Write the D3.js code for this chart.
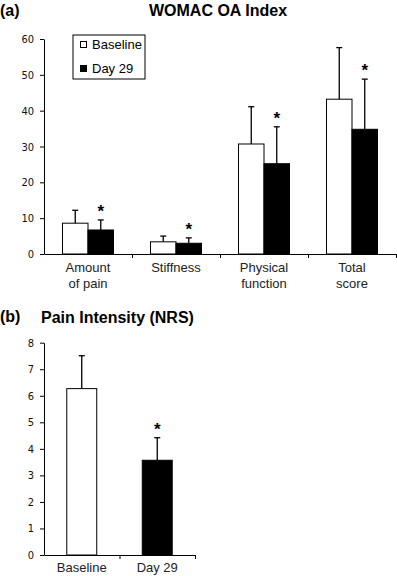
<!DOCTYPE html>
<html>
<head>
<meta charset="utf-8">
<script src="https://cdn.jsdelivr.net/npm/d3@7/dist/d3.min.js"></script>
<style>
  html, body { margin: 0; padding: 0; background: #fff; }
  svg { display: block; }
  .tick text { font-family: "Liberation Sans Narrow", "DejaVu Sans Condensed", "Liberation Sans", sans-serif; font-size: 11px; fill: #111; }
  .cat { font-family: "Liberation Sans", Arial, sans-serif; font-size: 13px; fill: #222; }
  .ttl { font-family: "Liberation Sans", Arial, sans-serif; font-weight: bold; font-size: 16px; }
</style>
</head>
<body>
<svg id="chart" width="397" height="576"></svg>
<script>
// (a) WOMAC OA Index
const womacCategories = [['Amount', 'of pain'], ['Stiffness'], ['Physical', 'function'], ['Total', 'score']];
const seriesNames = ['Baseline', 'Day 29'];
const womacBaseline = [8.6, 3.4, 30.7, 43.2];
const womacBaselineSD = [3.6, 1.6, 10.4, 14.4];
const womacDay29 = [6.7, 3.0, 25.2, 34.8];
const womacDay29SD = [2.8, 1.5, 10.3, 14.0];
const womacTicks = [0, 10, 20, 30, 40, 50, 60];

// (b) Pain Intensity (NRS)
const nrsCategories = ['Baseline', 'Day 29'];
const nrsValues = [6.27, 3.57];
const nrsSD = [1.24, 0.85];
const nrsSignificant = [false, true];
const nrsTicks = [0, 1, 2, 3, 4, 5, 6, 7, 8];

const svg = d3.select('#chart');

function errorBar(g, x, y0, y1) {
    g.append('line').attr('x1', x).attr('x2', x).attr('y1', y0).attr('y2', y1)
        .attr('stroke', '#000').attr('stroke-width', 1.3);
    g.append('line').attr('x1', x - 3).attr('x2', x + 3).attr('y1', y1).attr('y2', y1)
        .attr('stroke', '#000').attr('stroke-width', 1.3);
}

function star(g, x, yCap) {
    g.append('text').attr('x', x).attr('y', yCap - 3)
        .attr('text-anchor', 'middle')
        .style('font-family', '"Liberation Sans", Arial, sans-serif')
        .style('font-weight', 'bold').style('font-size', '17px')
        .text('*');
}

// ---------- panel (a) ----------
{
    const g = svg.append('g');
    const left = 44, right = 396;
    const y = d3.scaleLinear().domain([0, 60]).range([254, 39]);
    const x0 = d3.scaleBand().domain(d3.range(womacCategories.length)).range([left, right]).padding(0);
    const x1 = d3.scaleBand().domain(seriesNames).range([0, x0.bandwidth()]).paddingInner(0).paddingOuter(0.725);
    const xEdge = d3.scaleLinear().domain([0, womacCategories.length]).range([left, right]);

    g.append('text').attr('class', 'ttl').attr('x', 0).attr('y', 16).text('(a)');
    g.append('text').attr('class', 'ttl').attr('x', 218).attr('y', 16).attr('text-anchor', 'middle').text('WOMAC OA Index');

    g.append('g').attr('transform', `translate(${left},0)`)
        .call(d3.axisLeft(y).tickValues(womacTicks).tickSize(4).tickPadding(6).tickSizeOuter(0))
        .call(a => a.selectAll('line,path').attr('stroke', '#000'));

    const rows = womacCategories.map((c, i) => [
        { s: 'Baseline', i, v: womacBaseline[i], sd: womacBaselineSD[i], sig: false },
        { s: 'Day 29', i, v: womacDay29[i], sd: womacDay29SD[i], sig: true }
    ]).flat();

    g.selectAll('rect.bar').data(rows).join('rect')
        .attr('class', 'bar')
        .attr('x', d => x0(d.i) + x1(d.s))
        .attr('y', d => y(d.v))
        .attr('width', x1.bandwidth())
        .attr('height', d => y(0) - y(d.v))
        .attr('fill', d => d.s === 'Baseline' ? '#fff' : '#000')
        .attr('stroke', '#000').attr('stroke-width', 1);

    rows.forEach(d => {
        const cx = x0(d.i) + x1(d.s) + x1.bandwidth() / 2;
        errorBar(g, cx, y(d.v), y(d.v + d.sd));
        if (d.sig) star(g, cx, y(d.v + d.sd));
    });

    g.append('g').attr('transform', `translate(0,${y(0)})`)
        .call(d3.axisBottom(xEdge).tickValues(d3.range(1, womacCategories.length + 1)).tickFormat('').tickSize(4).tickSizeOuter(0))
        .call(a => a.selectAll('line,path').attr('stroke', '#000'));

    womacCategories.forEach((lines, i) => {
        const t = g.append('text').attr('class', 'cat')
            .attr('x', x0(i) + x0.bandwidth() / 2).attr('y', 272).attr('text-anchor', 'middle');
        lines.forEach((ln, k) => t.append('tspan').attr('x', x0(i) + x0.bandwidth() / 2).attr('dy', k ? 16 : 0).text(ln));
    });

    // legend
    const lg = g.append('g');
    lg.append('rect').attr('x', 73).attr('y', 35).attr('width', 72).attr('height', 44)
        .attr('fill', '#fff').attr('stroke', '#000').attr('stroke-width', 1);
    seriesNames.forEach((s, k) => {
        lg.append('rect').attr('x', 80.5).attr('y', 41.5 + k * 24).attr('width', 6).attr('height', 6)
            .attr('fill', k ? '#000' : '#fff').attr('stroke', '#000');
        lg.append('text').attr('x', 92).attr('y', 49 + k * 24)
            .style('font-family', '"Liberation Sans", Arial, sans-serif').style('font-size', '13px')
            .text(s);
    });
}

// ---------- panel (b) ----------
{
    const g = svg.append('g');
    const left = 44, right = 195;
    const y = d3.scaleLinear().domain([0, 8]).range([555, 342.7]);
    const x = d3.scaleBand().domain(nrsCategories).range([left, right]).paddingInner(0.603).paddingOuter(0.3015);
    const xEdge = d3.scaleLinear().domain([0, nrsCategories.length]).range([left, right]);

    g.append('text').attr('class', 'ttl').attr('x', 0).attr('y', 322).text('(b)');
    g.append('text').attr('class', 'ttl').attr('x', 41).attr('y', 323).text('Pain Intensity (NRS)');

    g.append('g').attr('transform', `translate(${left},0)`)
        .call(d3.axisLeft(y).tickValues(nrsTicks).tickSize(4).tickPadding(6).tickSizeOuter(0))
        .call(a => a.selectAll('line,path').attr('stroke', '#000'));

    g.selectAll('rect.bar').data(nrsCategories).join('rect')
        .attr('class', 'bar')
        .attr('x', d => x(d))
        .attr('y', (d, i) => y(nrsValues[i]))
        .attr('width', x.bandwidth())
        .attr('height', (d, i) => y(0) - y(nrsValues[i]))
        .attr('fill', (d, i) => i ? '#000' : '#fff')
        .attr('stroke', '#000').attr('stroke-width', 1);

    nrsCategories.forEach((c, i) => {
        const cx = x(c) + x.bandwidth() / 2;
        errorBar(g, cx, y(nrsValues[i]), y(nrsValues[i] + nrsSD[i]));
        if (nrsSignificant[i]) star(g, cx, y(nrsValues[i] + nrsSD[i]));
    });

    g.append('g').attr('transform', `translate(0,${y(0)})`)
        .call(d3.axisBottom(xEdge).tickValues(d3.range(1, nrsCategories.length + 1)).tickFormat('').tickSize(4).tickSizeOuter(0))
        .call(a => a.selectAll('line,path').attr('stroke', '#000'));

    nrsCategories.forEach(c => {
        g.append('text').attr('class', 'cat')
            .attr('x', x(c) + x.bandwidth() / 2).attr('y', 572).attr('text-anchor', 'middle').text(c);
    });
}
</script>
</body>
</html>
